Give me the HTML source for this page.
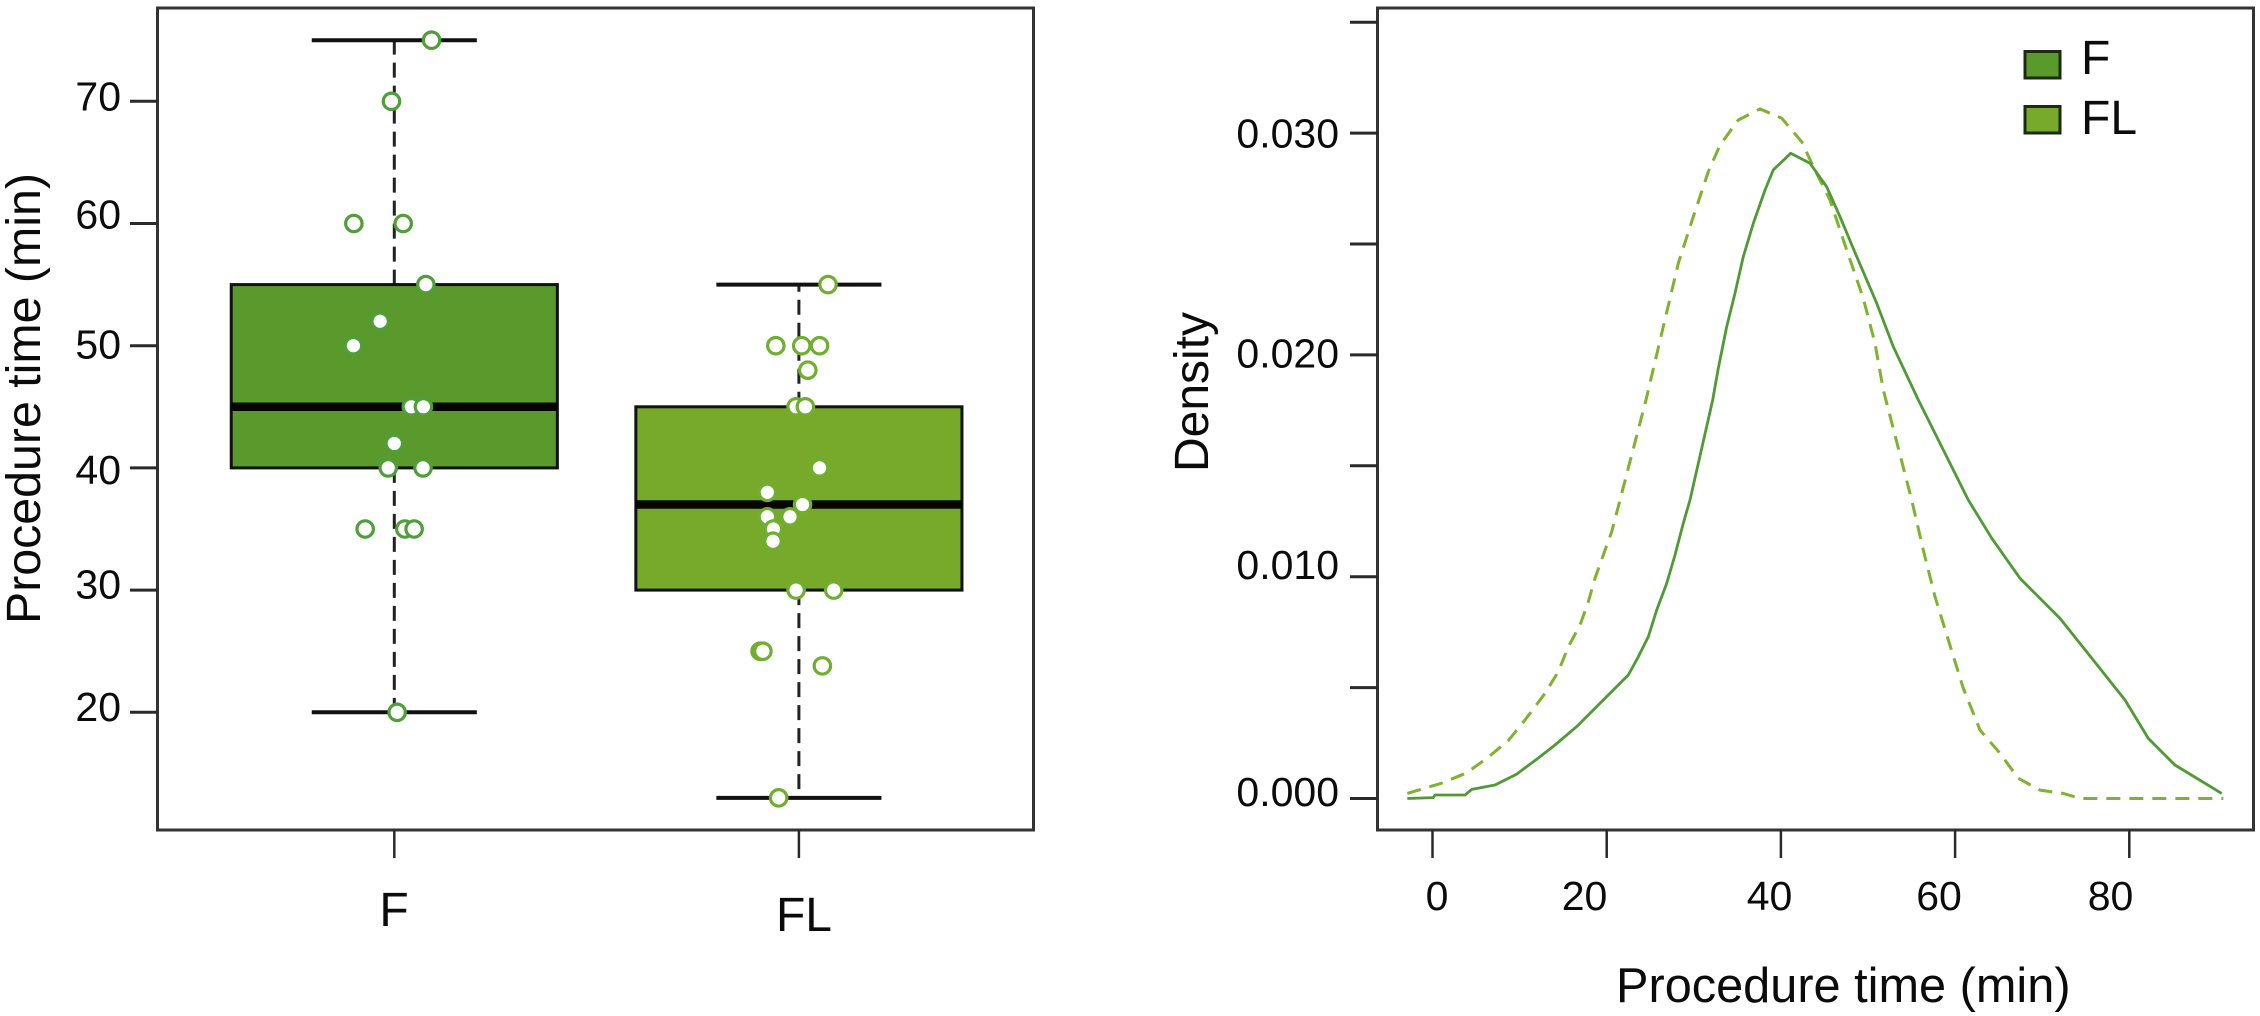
<!DOCTYPE html>
<html lang="en">
<head>
<meta charset="utf-8">
<title>Procedure time boxplot and density</title>
<style>
html,body{margin:0;padding:0;background:#fff;}
svg{display:block;}
text{font-family:"Liberation Sans",Arial,sans-serif;fill:#0b0b0b;}
</style>
</head>
<body>
<svg id="figure" xmlns="http://www.w3.org/2000/svg" width="2260" height="1016" viewBox="0 0 2260 1016">
  <rect x="0" y="0" width="2260" height="1016" fill="#fff"/>

  <g id="box-panel">
    <rect x="157.5" y="8" width="876" height="822" fill="none" stroke="#333" stroke-width="3"/>
    <g id="box-y-ticks"></g>
    <g id="box-x-ticks"></g>
    <g id="box-marks"></g>
    <g font-size="41" text-anchor="end">
      <text x="121" y="110.5">70</text>
      <text x="121" y="228.5">60</text>
      <text x="121" y="358.5">50</text>
      <text x="121" y="484">40</text>
      <text x="121" y="598.5">30</text>
      <text x="121" y="721">20</text>
    </g>
    <text x="394" y="926" font-size="48" text-anchor="middle">F</text>
    <text x="804" y="931" font-size="48" text-anchor="middle">FL</text>
    <text transform="translate(40,624) rotate(-90)" font-size="48.3">Procedure time (min)</text>
  </g>

  <g id="density-panel">
    <rect x="1377.5" y="8" width="876" height="822" fill="none" stroke="#333" stroke-width="3"/>
    <g id="density-y-ticks"></g>
    <g id="density-x-ticks"></g>
    <g id="density-lines"></g>
    <g font-size="41" text-anchor="end">
      <text x="1339" y="147.5">0.030</text>
      <text x="1339" y="367.5">0.020</text>
      <text x="1339" y="579">0.010</text>
      <text x="1339" y="806">0.000</text>
    </g>
    <g font-size="41" text-anchor="middle">
      <text x="1437" y="910">0</text>
      <text x="1584.5" y="910">20</text>
      <text x="1769.5" y="910">40</text>
      <text x="1939" y="910">60</text>
      <text x="2110.5" y="910">80</text>
    </g>
    <text x="1616" y="1002" font-size="48.7">Procedure time (min)</text>
    <text transform="translate(1208,472) rotate(-90)" font-size="48">Density</text>
    <g>
      <g>
        <rect x="2025" y="51.5" width="35" height="26.5" fill="#5a9a2d" stroke="#1c2a14" stroke-width="3"/>
        <text x="2081" y="74" font-size="48">F</text>
      </g>
      <g>
        <rect x="2025" y="106.5" width="35" height="26.5" fill="#77aa2a" stroke="#1c2a14" stroke-width="3"/>
        <text x="2081" y="134" font-size="48">FL</text>
      </g>
    </g>
  </g>
</svg>

<script>
// ---- Boxplot data ----
const categories = ['F', 'FL'];
const whiskerLow = [20, 13];
const quartile1 = [40, 30];
const medians = [45, 37];
const quartile3 = [55, 45];
const whiskerHigh = [75, 55];
const boxFills = ['#5a9a2d', '#77aa2a'];
const pointStrokes = ['#4f9e3a', '#6fae2e'];
const boxYTicks = [20, 30, 40, 50, 60, 70];

// raw observations (minutes) with horizontal jitter in category units
const fTimes = [75, 70, 60, 60, 55, 52, 50, 45, 45, 42, 40, 40, 35, 35, 35, 20];
const fJitter = [0.092, -0.007, -0.100, 0.022, 0.078, -0.035, -0.101, 0.042, 0.072, 0.000, -0.015, 0.071, -0.072, 0.026, 0.049, 0.007];
const flTimes = [55, 50, 50, 50, 48, 45, 45, 40, 38, 37, 36, 36, 35, 34, 30, 30, 25, 25, 23.8, 13];
const flJitter = [0.072, -0.057, 0.007, 0.051, 0.022, -0.007, 0.016, 0.051, -0.078, 0.009, -0.078, -0.022, -0.063, -0.064, -0.007, 0.086, -0.096, -0.089, 0.058, -0.050];

// ---- Density data ----
const densityXTicks = [0, 20, 40, 60, 80];
const densityYTicks = [0, 0.005, 0.010, 0.015, 0.020, 0.025, 0.030, 0.035];
const fDensityTime = [-2.89, 0.09, 0.29, 3.73, 4.50, 7.18, 9.67, 11.96, 14.06, 16.56, 19.61, 22.48, 23.63, 24.78, 25.74, 26.89, 27.84, 28.79, 29.56, 32.17, 32.81, 33.78, 34.73, 35.68, 36.83, 38.17, 39.13, 41.12, 43.34, 45.26, 46.79, 48.70, 51.00, 52.91, 55.78, 61.52, 64.21, 67.45, 72.04, 75.87, 79.51, 82.18, 85.24, 90.61];
const fDensityValue = [0, 0.00004, 0.00016, 0.00016, 0.00041, 0.00061, 0.00110, 0.00177, 0.00241, 0.00324, 0.00444, 0.00557, 0.00639, 0.00729, 0.00850, 0.00970, 0.01098, 0.01241, 0.01346, 0.01797, 0.01940, 0.02127, 0.02278, 0.02443, 0.02593, 0.02743, 0.02834, 0.02909, 0.02864, 0.02758, 0.02623, 0.02443, 0.02233, 0.02037, 0.01797, 0.01346, 0.01173, 0.00993, 0.00812, 0.00624, 0.00444, 0.00271, 0.00151, 0.00023];
const flDensityTime = [-2.89, 1.06, 3.93, 6.22, 8.70, 10.62, 12.92, 14.44, 15.59, 16.93, 17.89, 18.66, 19.61, 20.57, 21.33, 24.51, 26.31, 28.22, 29.94, 31.66, 33.01, 35.11, 37.60, 40.09, 42.39, 43.72, 45.64, 47.55, 49.46, 50.80, 51.76, 55.02, 56.35, 57.69, 59.22, 60.94, 62.86, 65.16, 67.26, 69.75, 72.42, 74.34, 90.79];
const flDensityValue = [0.00023, 0.00069, 0.00116, 0.00181, 0.00261, 0.00354, 0.00474, 0.00572, 0.00684, 0.00782, 0.00887, 0.00993, 0.01098, 0.01203, 0.01316, 0.01797, 0.02097, 0.02413, 0.02623, 0.02826, 0.02946, 0.03059, 0.03109, 0.03067, 0.02961, 0.02849, 0.02698, 0.02473, 0.02255, 0.02052, 0.01842, 0.01346, 0.01120, 0.00910, 0.00715, 0.00497, 0.00309, 0.00204, 0.00091, 0.00038, 0.00023, 0, 0];

// ---- Axis functions ----
function boxX(categoryPosition) { return 394.3 + 404.6 * categoryPosition; }
function boxY(minutes) { return 712.3 - 12.22 * (minutes - 20); }
function densityX(minutes) { return 1432.5 + 8.71 * minutes; }
function densityY(value) { return 798.5 - 22180 * value; }

const SVG_NS = 'http://www.w3.org/2000/svg';
function make(tag, parentId, props) {
  const node = document.createElementNS(SVG_NS, tag);
  for (const key in props) { node.setAttribute(key, props[key]); }
  document.getElementById(parentId).appendChild(node);
  return node;
}

// ---- Boxplot axes ----
boxYTicks.forEach(function (tick) {
  const el = make('line', 'box-y-ticks', { x1: 130, x2: 157.5, y1: boxY(tick), y2: boxY(tick), stroke: '#2a2a2a', 'stroke-width': 3 });
  
  
});
categories.forEach(function (cat, i) {
  const el = make('line', 'box-x-ticks', { x1: boxX(i), x2: boxX(i), y1: 830, y2: 858, stroke: '#2a2a2a', 'stroke-width': 2.5 });
  
  
});

// ---- Boxes and whiskers ----
const boxHalfWidth = 0.403;
const capHalfWidth = 0.204;
categories.forEach(function (cat, i) {
  const name = cat.toLowerCase();
  const cx = boxX(i);

  const upper = make('line', 'box-marks', { x1: cx, x2: cx, y1: boxY(quartile3[i]), y2: boxY(whiskerHigh[i]), stroke: '#222', 'stroke-width': 3, 'stroke-dasharray': '15 8' });
  
  

  const lower = make('line', 'box-marks', { x1: cx, x2: cx, y1: boxY(quartile1[i]), y2: boxY(whiskerLow[i]), stroke: '#222', 'stroke-width': 3, 'stroke-dasharray': '15 8' });
  
  

  const capTop = make('line', 'box-marks', { x1: boxX(i - capHalfWidth), x2: boxX(i + capHalfWidth), y1: boxY(whiskerHigh[i]), y2: boxY(whiskerHigh[i]), stroke: '#111', 'stroke-width': 4 });
  
  

  const capBottom = make('line', 'box-marks', { x1: boxX(i - capHalfWidth), x2: boxX(i + capHalfWidth), y1: boxY(whiskerLow[i]), y2: boxY(whiskerLow[i]), stroke: '#111', 'stroke-width': 4 });
  
  

  const box = make('rect', 'box-marks', { x: boxX(i - boxHalfWidth), y: boxY(quartile3[i]), width: boxX(i + boxHalfWidth) - boxX(i - boxHalfWidth), height: boxY(quartile1[i]) - boxY(quartile3[i]), fill: boxFills[i], stroke: '#111', 'stroke-width': 3 });
  
  

  const median = make('line', 'box-marks', { x1: boxX(i - boxHalfWidth), x2: boxX(i + boxHalfWidth), y1: boxY(medians[i]), y2: boxY(medians[i]), stroke: '#050505', 'stroke-width': 8.5 });
  
  
});

// ---- Jittered points ----
function drawPoints(times, jitter, categoryIndex) {
  times.forEach(function (t, k) {
    const dot = make('circle', 'box-marks', { cx: boxX(categoryIndex + jitter[k]), cy: boxY(t), r: 8.2, fill: '#fff', stroke: pointStrokes[categoryIndex], 'stroke-width': 3.2 });
    
    
  });
}
drawPoints(fTimes, fJitter, 0);
drawPoints(flTimes, flJitter, 1);

// ---- Density axes ----
densityYTicks.forEach(function (tick) {
  const el = make('line', 'density-y-ticks', { x1: 1350, x2: 1377.5, y1: densityY(tick), y2: densityY(tick), stroke: '#2a2a2a', 'stroke-width': 3 });
  
  
});
densityXTicks.forEach(function (tick) {
  const el = make('line', 'density-x-ticks', { x1: densityX(tick), x2: densityX(tick), y1: 830, y2: 858, stroke: '#2a2a2a', 'stroke-width': 2.5 });
  
  
});

// ---- Density curves ----
function curvePoints(times, values) {
  return times.map(function (t, k) { return densityX(t).toFixed(1) + ',' + densityY(values[k]).toFixed(1); }).join(' ');
}
const flLine = make('polyline', 'density-lines', { points: curvePoints(flDensityTime, flDensityValue), fill: 'none', stroke: '#7db32f', 'stroke-width': 3, 'stroke-dasharray': '14 9', 'stroke-linejoin': 'round' });


const fLine = make('polyline', 'density-lines', { points: curvePoints(fDensityTime, fDensityValue), fill: 'none', stroke: '#4f9a35', 'stroke-width': 2.8, 'stroke-linejoin': 'round' });


</script>
</body>
</html>
